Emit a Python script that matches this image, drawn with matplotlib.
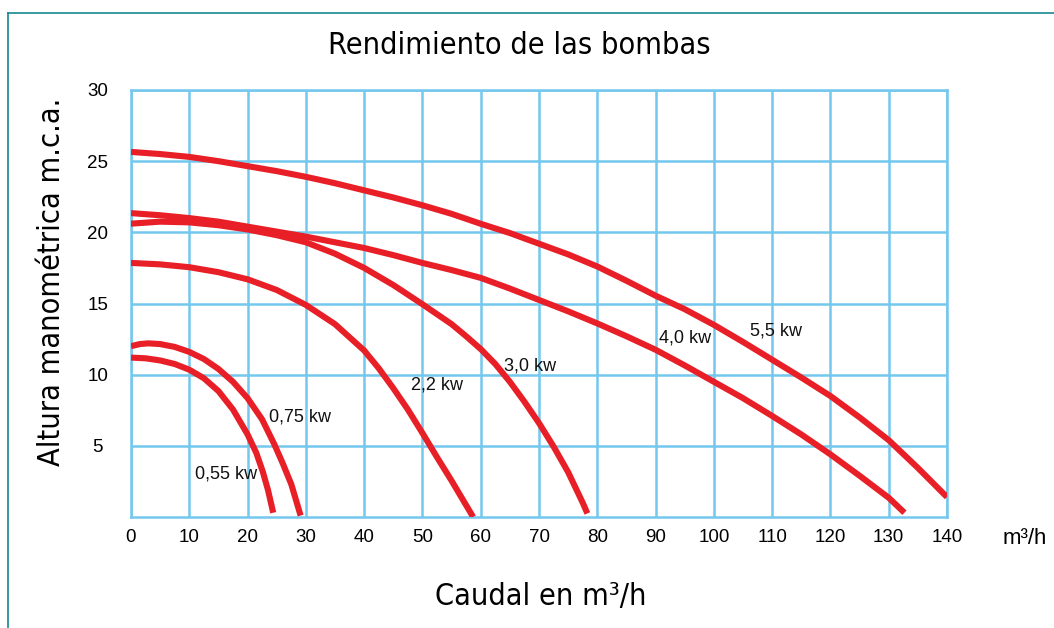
import matplotlib.pyplot as plt
from matplotlib.lines import Line2D
from matplotlib import font_manager

# Pump curves: flow (m3/h) vs head (m.c.a.)
q_055 = [0, 2.5, 5, 7.5, 10, 12.5, 15, 17.5, 20, 21.5, 22.6, 23.5, 24.4]
h_055 = [11.2, 11.15, 11.0, 10.75, 10.35, 9.75, 8.85, 7.55, 5.8, 4.5, 3.2, 1.9, 0.3]

q_075 = [0, 1.5, 3, 5, 7.5, 10, 12.5, 15, 17.5, 20, 22.5, 24.6, 26, 27.5, 29.1]
h_075 = [12.0, 12.15, 12.2, 12.15, 11.95, 11.6, 11.1, 10.4, 9.5, 8.35, 6.85,
         5.1, 3.8, 2.3, 0.1]

q_22 = [0, 5, 10, 15, 20, 25, 30, 35, 40, 42.5, 45, 47.5, 50, 52.5, 55, 58.7]
h_22 = [17.85, 17.75, 17.55, 17.2, 16.7, 15.95, 14.9, 13.55, 11.7, 10.45, 9.05,
        7.55, 5.9, 4.2, 2.55, 0.0]

q_30 = [-0.3, 5, 10, 15, 20, 25, 30, 35, 40, 45, 50, 55, 57.5, 60, 62.5, 65,
        67.5, 70, 72.5, 75, 77.5, 78.3]
h_30 = [20.6, 20.75, 20.7, 20.5, 20.2, 19.8, 19.3, 18.5, 17.5, 16.3, 14.95,
        13.55, 12.7, 11.8, 10.75, 9.5, 8.1, 6.6, 4.95, 3.15, 1.0, 0.25]

q_40 = [0, 5, 10, 15, 20, 25, 30, 35, 40, 45, 50, 55, 60, 65, 70, 75, 80,
        85, 90, 95, 100, 105, 110, 115, 120, 125, 130, 132.7]
h_40 = [21.35, 21.2, 21.0, 20.75, 20.4, 20.05, 19.7, 19.3, 18.9, 18.4, 17.85,
        17.35, 16.8, 16.05, 15.25, 14.45, 13.6, 12.7, 11.75, 10.65, 9.5, 8.35,
        7.1, 5.8, 4.4, 2.9, 1.35, 0.3]

q_55 = [0, 5, 10, 15, 20, 25, 30, 35, 40, 45, 50, 55, 60, 65, 70, 75, 80,
        85, 90, 95, 100, 105, 110, 115, 120, 125, 130, 135, 140]
h_55 = [25.65, 25.5, 25.3, 25.0, 24.65, 24.3, 23.9, 23.45, 22.95, 22.45, 21.9,
        21.3, 20.6, 19.95, 19.2, 18.45, 17.6, 16.6, 15.55, 14.6, 13.5, 12.3,
        11.05, 9.8, 8.5, 7.0, 5.4, 3.45, 1.4]

curves = [(q_055, h_055), (q_075, h_075), (q_22, h_22),
          (q_30, h_30), (q_40, h_40), (q_55, h_55)]

labels = ["0,55 kw", "0,75 kw", "2,2 kw", "3,0 kw", "4,0 kw", "5,5 kw"]
label_q = [16.3, 29.0, 52.5, 68.4, 95.0, 110.6]
label_h = [3.0, 7.0, 9.3, 10.6, 12.6, 13.1]

x_ticks = list(range(0, 141, 10))
y_ticks = [5, 10, 15, 20, 25, 30]


def narrow_font(size):
    # regular-weight condensed face for the headings, if one is installed
    best = None
    for f in font_manager.fontManager.ttflist:
        n = (f.name + " " + f.fname).lower()
        if not ("condensed" in n or "narrow" in n):
            continue
        if "oblique" in n or "italic" in n:
            continue
        w = f.weight if isinstance(f.weight, int) else 400
        score = abs(w - 450)
        if best is None or score < best[0]:
            best = (score, f.fname)
    if best:
        return font_manager.FontProperties(fname=best[1], size=size)
    return font_manager.FontProperties(family="Liberation Sans", size=size)


plain = "Liberation Sans"
red = "#e81f27"
grid_blue = "#74c8ee"

fig = plt.figure(figsize=(10.54, 6.28), dpi=100)
ax = fig.add_axes([131 / 1054, 1 - 517 / 628, 816 / 1054, 427 / 628])

for q, h in curves:
    ax.plot(q, h, color=red, lw=4.4, solid_capstyle="butt",
            solid_joinstyle="round", zorder=3)

for txt, xq, yh in zip(labels, label_q, label_h):
    ax.text(xq, yh, txt, ha="center", va="center", fontsize=13,
            family=plain, color="#111111", zorder=4)

ax.set_xlim(0, 140)
ax.set_ylim(0, 30)
ax.set_xticks(x_ticks)
ax.set_yticks(y_ticks)
ax.grid(True, color=grid_blue, lw=1.8, zorder=1)
ax.set_axisbelow(True)
for sp in ax.spines.values():
    sp.set_color(grid_blue)
    sp.set_linewidth(1.8)
ax.tick_params(length=0, labelsize=13.5)
ax.tick_params(axis="x", pad=9)
ax.tick_params(axis="y", pad=24)
for lab in ax.get_xticklabels() + ax.get_yticklabels():
    lab.set_family(plain)
for lab in ax.get_yticklabels():
    lab.set_horizontalalignment("center")

fig.text(1025 / 1054, 1 - 538 / 628, "m³/h", ha="center", va="center",
         fontsize=16, family=plain)

fig.text(519 / 1054, 1 - 45 / 628, "Rendimiento de las bombas",
         ha="center", va="center", fontproperties=narrow_font(22))
fig.text(52 / 1054, 1 - 282 / 628, "Altura manométrica m.c.a.",
         ha="center", va="center", rotation=90, fontproperties=narrow_font(22))
fig.text(541 / 1054, 1 - 597 / 628, "Caudal en m³/h",
         ha="center", va="center", fontproperties=narrow_font(22))

# thin frame along the top and left edges
frame = "#17878f"
fig.add_artist(Line2D([8 / 1054, 1.0], [1 - 13 / 628] * 2,
                      color=frame, lw=1.2, transform=fig.transFigure))
fig.add_artist(Line2D([8 / 1054] * 2, [0, 1 - 13 / 628],
                      color=frame, lw=1.2, transform=fig.transFigure))

fig.savefig("out.png", dpi=100)
